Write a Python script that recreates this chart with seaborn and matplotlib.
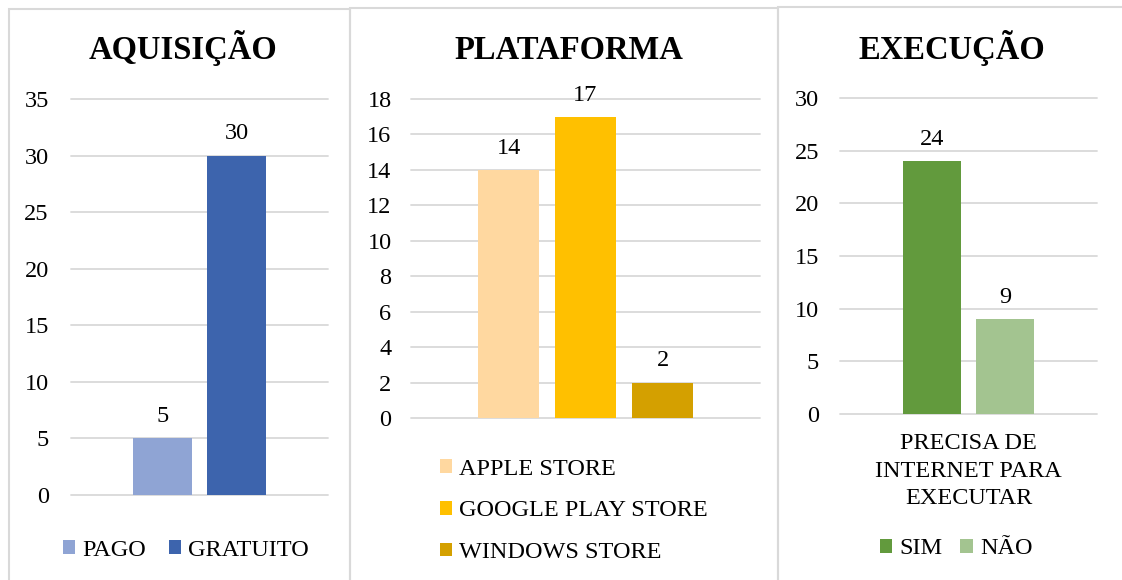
import pandas as pd
import matplotlib.pyplot as plt
import seaborn as sns
from matplotlib.patches import Rectangle

# dados
aquisicao_tipos = ["PAGO", "GRATUITO"]
aquisicao_valores = [5, 30]
aquisicao_cores = ["#8FA4D4", "#3D64AD"]

plataforma_tipos = ["APPLE STORE", "GOOGLE PLAY STORE", "WINDOWS STORE"]
plataforma_valores = [14, 17, 2]
plataforma_cores = ["#FFD8A0", "#FFC000", "#D4A000"]

execucao_categoria = "PRECISA DE\nINTERNET PARA\nEXECUTAR"
execucao_tipos = ["SIM", "NÃO"]
execucao_valores = [24, 9]
execucao_cores = ["#629A3D", "#A3C490"]

sns.set_theme(style="white")
plt.rcParams["font.family"] = ["Liberation Serif", "DejaVu Serif"]
plt.rcParams["text.color"] = "black"

W, H = 1122, 580
fig = plt.figure(figsize=(W / 100, H / 100), dpi=100)


def px(l, t, r, b):
    return [l / W, 1 - b / H, (r - l) / W, (b - t) / H]


def painel(rect, categoria, tipos, valores, cores, ymax, passo, width, gap, pad):
    ax = fig.add_axes(rect)
    df = pd.DataFrame({"grupo": categoria, "tipo": tipos, "valor": valores})
    sns.barplot(data=df, x="grupo", y="valor", hue="tipo", hue_order=tipos,
                palette=cores, width=width, gap=gap, saturation=1,
                linewidth=0, ax=ax)
    ax.set_xlim(-0.5, 0.5)
    ax.set_ylim(0, ymax)
    ax.set_yticks(range(0, ymax + 1, passo))
    ax.yaxis.grid(True, color="#d9d9d9", linewidth=1.3)
    for gl in ax.get_ygridlines():
        gl.set_clip_on(False)
    ax.set_axisbelow(True)
    sns.despine(ax=ax, left=True, bottom=True)
    ax.tick_params(axis="y", length=0, pad=pad, labelsize=17.5, labelcolor="black")
    ax.tick_params(axis="x", length=0, labelsize=17.5, labelcolor="black")
    ax.set_xlabel("")
    ax.set_ylabel("")
    for c in ax.containers:
        ax.bar_label(c, fontsize=17.5, padding=8, color="black")
    return ax


ax1 = painel(px(71, 99, 328, 495), "", aquisicao_tipos, aquisicao_valores,
             aquisicao_cores, 35, 5, 0.576, 0.216, 16)
ax2 = painel(px(411, 99, 760, 418), "", plataforma_tipos, plataforma_valores,
             plataforma_cores, 18, 2, 0.662, 0.21, 14)
ax3 = painel(px(840, 98, 1097, 414), execucao_categoria, execucao_tipos,
             execucao_valores, execucao_cores, 30, 5, 0.568, 0.205, 15)

ax1.set_xticklabels([])
ax2.set_xticklabels([])
for t in ax3.get_xticklabels():
    t.set_linespacing(1.4)
ax3.tick_params(axis="x", pad=14)

# legendas
leg_kw = dict(frameon=False, fontsize=17.5, handlelength=0.5, handleheight=0.5,
              handletextpad=0.3, borderpad=0, borderaxespad=0, labelcolor="black",
              bbox_transform=fig.transFigure, loc="center", labelspacing=0.85)
for ax, cx, cy, ncol, cs in [(ax1, 186, 550, 2, 0.95), (ax2, 574, 511, 1, 1.0),
                             (ax3, 956, 549, 2, 0.75)]:
    h, l = ax.get_legend_handles_labels()
    ax.legend(h, l, ncol=ncol, bbox_to_anchor=(cx / W, 1 - cy / H),
              columnspacing=cs, **leg_kw)

# títulos
for txt, cx in [("AQUISIÇÃO", 183), ("PLATAFORMA", 569), ("EXECUÇÃO", 952)]:
    fig.text(cx / W, 1 - 59 / H, txt, ha="center", va="baseline",
             fontsize=23.5, fontweight="bold", color="black")

# bordas dos painéis
for l, t, r in [(9, 9, 350), (350, 8, 778), (778, 7, 1135)]:
    fig.add_artist(Rectangle((l / W, 1 - 600 / H), (r - l) / W, (600 - t) / H,
                             transform=fig.transFigure, fill=False,
                             edgecolor="#d9d9d9", linewidth=1.5))

fig.savefig("out.png", dpi=100)
